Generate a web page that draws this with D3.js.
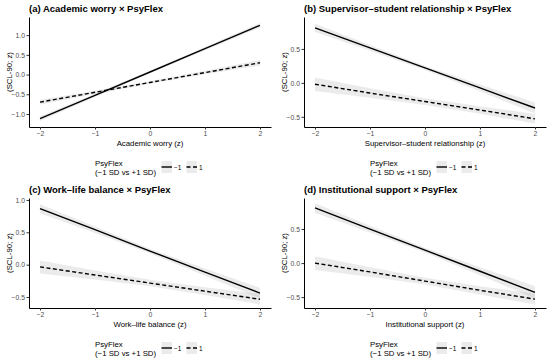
<!DOCTYPE html>
<html><head><meta charset="utf-8">
<script src="https://cdn.jsdelivr.net/npm/d3@7"></script>
<style>body{margin:0;background:#fff}svg{display:block;font-family:"Liberation Sans",Arial,sans-serif}</style>
</head><body>
<svg id="c" width="550" height="362"></svg>
<script>
const xGrid = [-2, -1, 0, 1, 2];
const panelTitles = ["(a) Academic worry × PsyFlex", "(b) Supervisor\u2013student relationship × PsyFlex", "(c) Work\u2013life balance × PsyFlex", "(d) Institutional support × PsyFlex"];
const xTitles = ["Academic worry (z)", "Supervisor\u2013student relationship (z)", "Work\u2013life balance (z)", "Institutional support (z)"];
const xTicks = [-2, -1, 0, 1, 2];
const yTicksA = [-1, -0.5, 0, 0.5, 1];
const yTicksB = [-0.5, 0, 0.5];
const yTicksC = [-0.5, 0, 0.5, 1];
const yTicksD = [-0.5, 0, 0.5];
const yDomains = [[-1.33, 1.46], [-0.65, 0.97], [-0.67, 1.03], [-0.66, 0.956]];
// fitted values: PsyFlex = -1 (solid) and +1 (dashed)
const lowA = [-1.12, -0.53, 0.065, 0.66, 1.25];
const highA = [-0.70, -0.45, -0.20, 0.05, 0.30];
const lowB = [0.81, 0.515, 0.22, -0.075, -0.37];
const highB = [-0.02, -0.15, -0.275, -0.40, -0.53];
const lowC = [0.865, 0.54, 0.21, -0.115, -0.44];
const highC = [-0.035, -0.16, -0.285, -0.41, -0.535];
const lowD = [0.81, 0.50, 0.19, -0.12, -0.43];
const highD = [0.0, -0.13, -0.265, -0.40, -0.53];
// 95% CI half-widths
const seLowA = [0.06, 0.042, 0.03, 0.042, 0.06];
const seHighA = [0.06, 0.042, 0.03, 0.045, 0.07];
const seLowB = [0.06, 0.042, 0.03, 0.05, 0.08];
const seHighB = [0.10, 0.07, 0.05, 0.055, 0.07];
const seLowC = [0.07, 0.05, 0.035, 0.055, 0.08];
const seHighC = [0.10, 0.07, 0.05, 0.06, 0.08];
const seLowD = [0.07, 0.05, 0.035, 0.06, 0.09];
const seHighD = [0.10, 0.07, 0.05, 0.06, 0.08];
const legendLabels = ["\u22121", "1"];

const panels = [
  {low: lowA, high: highA, seL: seLowA, seH: seHighA, yt: yTicksA},
  {low: lowB, high: highB, seL: seLowB, seH: seHighB, yt: yTicksB},
  {low: lowC, high: highC, seL: seLowC, seH: seHighC, yt: yTicksC},
  {low: lowD, high: highD, seL: seLowD, seH: seHighD, yt: yTicksD}
];
const svg = d3.select("#c");
const fmt = v => (v < 0 ? "\u2212" : "") + Math.abs(v).toFixed(1);
const fmtX = v => (v < 0 ? "\u2212" : "") + Math.abs(v);

panels.forEach((p, i) => {
  const col = i % 2, row = Math.floor(i / 2);
  const x0 = col ? 304 : 29, x1 = col ? 546 : 271;
  const y0 = row ? 198 : 17, y1 = row ? 308 : 127;
  const ox = col ? 275 : 0, oy = row ? 181 : 0;
  const x = d3.scaleLinear().domain([-2.2, 2.2]).range([x0, x1]);
  const y = d3.scaleLinear().domain(yDomains[i]).range([y1, y0]);
  const g = svg.append("g");
  const series = [
    {m: p.low, s: p.seL, dash: null},
    {m: p.high, s: p.seH, dash: "4,2.5"}
  ];
  const area = d3.area().x((d, k) => x(xGrid[k])).y0(d => y(d[0] - d[1])).y1(d => y(d[0] + d[1]));
  series.forEach(sr => {
    g.append("path").datum(sr.m.map((v, k) => [v, sr.s[k]]))
      .attr("d", area).attr("fill", "#999").attr("fill-opacity", 0.2);
  });
  const line = d3.line().x((d, k) => x(xGrid[k])).y(d => y(d));
  series.forEach(sr => {
    g.append("path").datum(sr.m).attr("d", line).attr("fill", "none")
      .attr("stroke", "#000").attr("stroke-width", 1.4)
      .attr("stroke-dasharray", sr.dash);
  });
  const xa = g.append("g").attr("transform", `translate(0,${y1})`)
    .call(d3.axisBottom(x).tickValues(xTicks).tickFormat(fmtX).tickSize(2.5).tickSizeOuter(0));
  const ya = g.append("g").attr("transform", `translate(${x0},0)`)
    .call(d3.axisLeft(y).tickValues(p.yt).tickFormat(fmt).tickSize(2.5).tickSizeOuter(0));
  [xa, ya].forEach(a => {
    a.select(".domain").attr("stroke", "#000").attr("stroke-width", 1);
    a.selectAll(".tick line").attr("stroke", "#333");
    a.selectAll("text").attr("fill", "#4d4d4d").attr("font-size", 6.8)
      .attr("font-family", "Liberation Sans, Arial, sans-serif");
  });
  xa.selectAll("text").attr("dy", "0.9em").attr("y", 3);
  ya.selectAll("text").attr("x", -4);
  g.append("text").attr("x", ox + 29).attr("y", oy + 12).attr("font-weight", "bold")
    .attr("font-size", 9.5).text(panelTitles[i]);
  g.append("text").attr("x", (x0 + x1) / 2).attr("y", y1 + 18.5).attr("text-anchor", "middle")
    .attr("font-size", 7.8).text(xTitles[i]);
  g.append("text").attr("transform", `translate(${ox + 12},${(y0 + y1) / 2}) rotate(-90)`)
    .attr("text-anchor", "middle").attr("font-size", 7.8).text("(SCL-90; z)");
  // legend
  const lx = ox + 95, ly = oy + 161;
  g.append("text").attr("x", lx).attr("y", ly + 4.5).attr("font-size", 7.8).text("PsyFlex");
  g.append("text").attr("x", lx).attr("y", ly + 13.5).attr("font-size", 7.8).text("(\u22121 SD vs +1 SD)");
  [0, 1].forEach(k => {
    const kx = ox + 161.5 + k * 25;
    g.append("rect").attr("x", kx).attr("y", ly).attr("width", 10.5).attr("height", 12)
      .attr("fill", "#999").attr("fill-opacity", 0.2);
    g.append("line").attr("x1", kx).attr("x2", kx + 10.5).attr("y1", ly + 6).attr("y2", ly + 6)
      .attr("stroke", "#000").attr("stroke-width", 1.4).attr("stroke-dasharray", k ? "4,2.5" : null);
    g.append("text").attr("x", kx + 12.5).attr("y", ly + 8.5).attr("font-size", 6.5).attr("fill", "#000")
      .text(legendLabels[k]);
  });
});
</script>
</body></html>
